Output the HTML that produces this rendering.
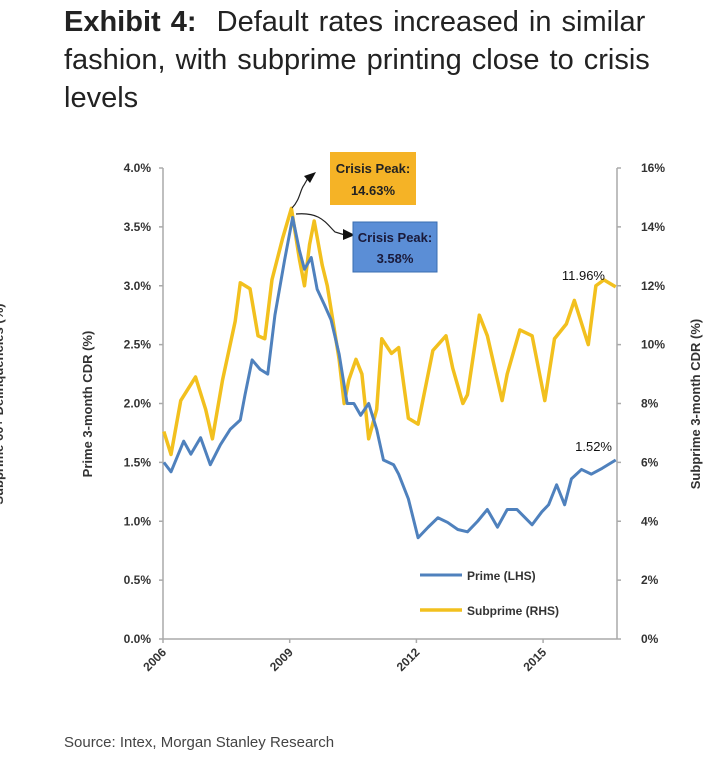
<!DOCTYPE html>
<html><head><meta charset="utf-8">
<style>
body{margin:0;background:#fff;width:720px;height:768px;overflow:hidden;position:relative;font-family:"Liberation Sans",sans-serif}
.t{position:absolute;left:64px;top:3px;font-size:29px;line-height:38px;color:#222;width:650px;word-spacing:2px}
.src{position:absolute;left:64px;top:734px;font-size:15px;color:#444}
svg{position:absolute;left:0;top:0}
</style></head><body>
<div class="t"><b>Exhibit 4:</b>&nbsp; Default rates increased in similar fashion, with subprime printing close to crisis levels</div>
<svg width="720" height="768" id="c"></svg>
<div class="src">Source: Intex, Morgan Stanley Research</div>
<script>
const primeYears=[2006.02,2006.19,2006.49,2006.66,2006.89,2007.12,2007.36,2007.59,2007.83,2007.94,2008.11,2008.30,2008.48,2008.65,2008.88,2009.07,2009.23,2009.35,2009.51,2009.65,2009.82,2009.98,2010.17,2010.36,2010.52,2010.68,2010.87,2011.06,2011.22,2011.46,2011.58,2011.81,2012.04,2012.28,2012.51,2012.74,2012.98,2013.21,2013.45,2013.68,2013.92,2014.15,2014.38,2014.74,2014.97,2015.13,2015.32,2015.51,2015.67,2015.91,2016.14,2016.40,2016.72];
const primeValues=[1.5,1.42,1.68,1.57,1.71,1.48,1.65,1.78,1.86,2.07,2.37,2.29,2.25,2.75,3.22,3.58,3.3,3.14,3.24,2.97,2.84,2.71,2.42,2.0,2.0,1.9,2.0,1.78,1.52,1.48,1.4,1.19,0.86,0.95,1.03,0.99,0.93,0.91,1.0,1.1,0.95,1.1,1.1,0.97,1.08,1.14,1.31,1.14,1.36,1.44,1.4,1.45,1.52];
const subYears=[2006.02,2006.19,2006.42,2006.77,2007.01,2007.17,2007.41,2007.71,2007.83,2008.06,2008.25,2008.41,2008.58,2008.83,2009.04,2009.23,2009.35,2009.47,2009.58,2009.77,2009.89,2010.17,2010.29,2010.40,2010.57,2010.71,2010.87,2011.06,2011.18,2011.41,2011.58,2011.81,2012.04,2012.39,2012.70,2012.86,2013.10,2013.21,2013.49,2013.68,2014.03,2014.15,2014.45,2014.74,2015.04,2015.27,2015.55,2015.74,2016.07,2016.25,2016.44,2016.72];
const subValues=[7.05,6.27,8.1,8.9,7.8,6.8,8.8,10.8,12.1,11.9,10.3,10.2,12.2,13.6,14.63,12.9,12.0,13.4,14.2,12.7,12.0,9.5,8.0,8.8,9.5,9.0,6.8,7.8,10.2,9.7,9.9,7.5,7.3,9.8,10.3,9.2,8.0,8.3,11.0,10.3,8.1,9.0,10.5,10.3,8.1,10.2,10.7,11.5,10.0,12.0,12.2,11.96];
const leftTicks=["0.0%","0.5%","1.0%","1.5%","2.0%","2.5%","3.0%","3.5%","4.0%"];
const rightTicks=["0%","2%","4%","6%","8%","10%","12%","14%","16%"];
const xTicks=[2006,2009,2012,2015];
const NS="http://www.w3.org/2000/svg",svg=document.getElementById('c');
const X0=163,X1=617,Y0=639,Y1=168;
const x=y=>X0+(y-2006)/(10.75)*(X1-X0);
const yl=v=>Y0-v/4*(Y0-Y1);
const yr=v=>Y0-v/16*(Y0-Y1);
function mk(t,a,txt){const e=document.createElementNS(NS,t);for(const k in a)e.setAttribute(k,a[k]);if(txt!==undefined)e.textContent=txt;svg.appendChild(e);return e;}
const ax={stroke:"#aaa","stroke-width":1.5};
let e=mk('line',Object.assign({x1:X0,y1:Y1,x2:X0,y2:Y0},ax));
e=mk('line',Object.assign({x1:X1,y1:Y1,x2:X1,y2:Y0},ax));
e=mk('line',Object.assign({x1:X0,y1:Y0,x2:X1,y2:Y0},ax));
const tf={"font-family":"Liberation Sans, sans-serif","font-size":12,"font-weight":"bold",fill:"#333"};
leftTicks.forEach((t,i)=>{const v=i*0.5;mk('line',Object.assign({x1:X0-4,x2:X0,y1:yl(v),y2:yl(v)},ax));
 const el=mk('text',Object.assign({x:X0-12,y:yl(v)+4,"text-anchor":"end"},tf),t);});
rightTicks.forEach((t,i)=>{const v=i*2;mk('line',Object.assign({x1:X1,x2:X1+4,y1:yr(v),y2:yr(v)},ax));
 const el=mk('text',Object.assign({x:X1+24,y:yr(v)+4},tf),t);});
xTicks.forEach(t=>{mk('line',Object.assign({x1:x(t),x2:x(t),y1:Y0,y2:Y0+4},ax));
 const el=mk('text',Object.assign({x:x(t)+4,y:Y0+14,"text-anchor":"end",transform:`rotate(-45 ${x(t)+4} ${Y0+14})`},tf),String(t));});
function rot(txt,cx,cy,name){const el=mk('text',Object.assign({x:cx,y:cy,"text-anchor":"middle",transform:`rotate(-90 ${cx} ${cy})`},tf,{"font-size":13}),txt);}
rot("Prime 3-month CDR  (%)",92,404,'left-axis-title');
rot("Subprime 3-month CDR  (%)",700,404,'right-axis-title');
rot("Subprime 60+ Delinquencies (%)",3,404,'clipped-axis-title');
const sp=mk('polyline',{points:subYears.map((d,i)=>x(d)+","+yr(subValues[i])).join(" "),fill:"none",stroke:"#f2c01e","stroke-width":3.5,"stroke-linejoin":"round"});

const pr=mk('polyline',{points:primeYears.map((d,i)=>x(d)+","+yl(primeValues[i])).join(" "),fill:"none",stroke:"#4f81bd","stroke-width":3,"stroke-linejoin":"round"});

mk('path',{d:"M292 208 C300 200 300 190 304 185 L308 178",fill:"none",stroke:"#222","stroke-width":1.2});
mk('polygon',{points:"304,176 316,172 310,183",fill:"#111"});
mk('path',{d:"M296 214 C320 212 325 222 335 232 L345 235",fill:"none",stroke:"#222","stroke-width":1.2});
mk('polygon',{points:"343,229 355,235 343,240",fill:"#111"});
let b=mk('rect',{x:330,y:152,width:86,height:53,fill:"#f5b326"});
mk('text',Object.assign({x:373,y:173,"text-anchor":"middle"},tf,{"font-size":13,fill:"#222"}),"Crisis Peak:");
mk('text',Object.assign({x:373,y:195,"text-anchor":"middle"},tf,{"font-size":13,fill:"#222"}),"14.63%");
b=mk('rect',{x:353,y:222,width:84,height:50,fill:"#5b8ed6",stroke:"#3a6db0"});
mk('text',Object.assign({x:395,y:242,"text-anchor":"middle"},tf,{"font-size":13,fill:"#1a1a3a"}),"Crisis Peak:");
mk('text',Object.assign({x:395,y:263,"text-anchor":"middle"},tf,{"font-size":13,fill:"#1a1a3a"}),"3.58%");
e=mk('text',Object.assign({x:605,y:280,"text-anchor":"end"},tf,{"font-size":13,"font-weight":"normal",fill:"#111"}),"11.96%");
e=mk('text',Object.assign({x:612,y:451,"text-anchor":"end"},tf,{"font-size":13,"font-weight":"normal",fill:"#111"}),"1.52%");
mk('line',{x1:420,x2:462,y1:575,y2:575,stroke:"#4f81bd","stroke-width":3});
e=mk('text',Object.assign({x:467,y:580},tf),"Prime (LHS)");
mk('line',{x1:420,x2:462,y1:610,y2:610,stroke:"#f2c01e","stroke-width":3.5});
e=mk('text',Object.assign({x:467,y:615},tf),"Subprime (RHS)");
</script>
</body></html>
